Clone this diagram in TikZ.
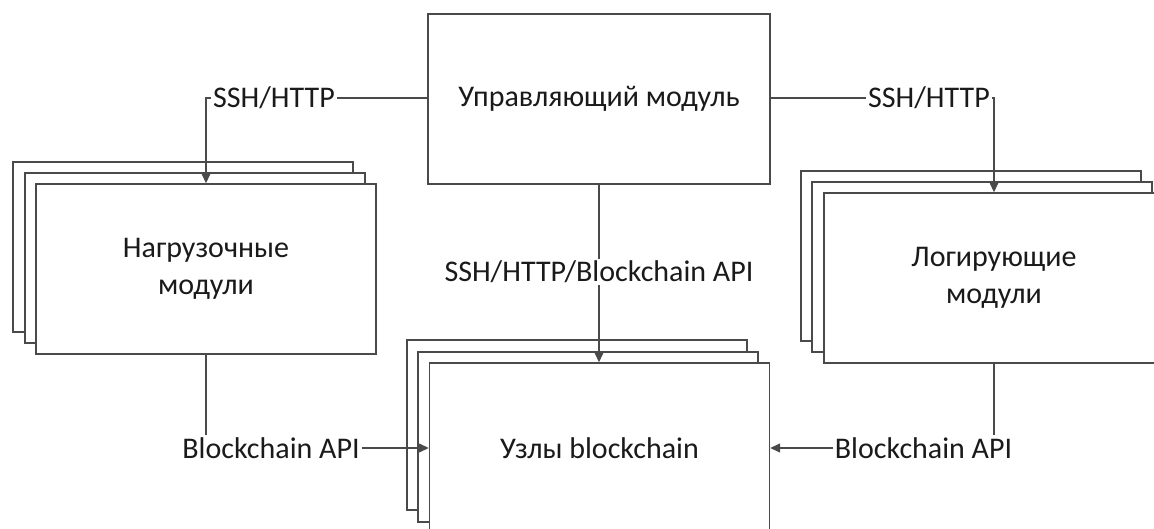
\documentclass[tikz,border=0pt]{standalone}
\usepackage{fontspec}
\setmainfont{Carlito}
\usetikzlibrary{arrows.meta}
\definecolor{lnc}{HTML}{4A4A4A}
\definecolor{txc}{HTML}{1A1A1A}
\begin{document}
\begin{tikzpicture}[x=1pt,y=-1pt,
  box/.style={draw=lnc,line width=1.4pt,fill=white,minimum width=340pt,minimum height=170pt,
    inner sep=0pt,align=center,text=txc,font=\fontsize{30}{37}\selectfont},
  lbl/.style={fill=white,inner sep=2pt,text=txc,font=\fontsize{30}{36}\selectfont},
  conn/.style={draw=lnc,line width=1.4pt},
  arr/.style={conn,-{Triangle[length=10pt,width=9pt]}}]
\useasboundingbox (0,0) rectangle (1154,529);
\clip (0,0) rectangle (1154,529);
% control module
\node[box,minimum width=342pt] (ctl) at (599,99) {Управляющий модуль};
% left stack
\node[box] (lb3) at (183,247) {};
\node[box] (lb2) at (195,258) {};
\node[box] (lb1) at (206,269) {Нагрузочные\\модули};
% right stack
\node[box] (rb3) at (971,256) {};
\node[box] (rb2) at (982,267) {};
\node[box] (rb1) at (994,278) {Логирующие\\модули};
% centre stack
\node[box] (cb3) at (577,425) {};
\node[box] (cb2) at (588,437) {};
\node[box] (cb1) at (599.5,448) {Узлы blockchain};
% labels
\node[lbl] (sl) at (274,98) {SSH/HTTP};
\node[lbl] (sr) at (929,98) {SSH/HTTP};
\node[lbl] (sc) at (599,272) {SSH/HTTP/Blockchain API};
\node[lbl] (bl) at (271,448) {Blockchain API};
\node[lbl] (br) at (923.5,448) {Blockchain API};
% connectors
\draw[conn] (ctl.west |- sl.east) -- (sl.east);
\draw[arr] (sl.west) -| (lb1.north);
\draw[conn] (ctl.east |- sr.west) -- (sr.west);
\draw[arr] (sr.east) -| (rb1.north);
\draw[conn] (ctl.south) -- (ctl.south |- sc.north);
\draw[arr] (sc.south) -- (sc.south |- cb1.north);
\draw[conn] (lb1.south) -- (lb1.south |- bl.north);
\draw[arr] (bl.east) -- (cb1.west |- bl.east);
\draw[conn] (rb1.south) -- (rb1.south |- br.north);
\draw[arr] (br.west) -- (cb1.east |- br.west);
\end{tikzpicture}
\end{document}
